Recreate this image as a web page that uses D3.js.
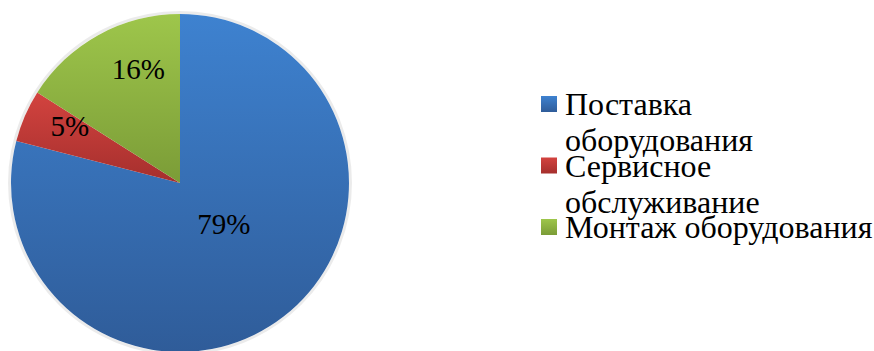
<!DOCTYPE html>
<html>
<head>
<meta charset="utf-8">
<script src="https://cdn.jsdelivr.net/npm/d3@7"></script>
<style>
  body { margin: 0; background: #fff; }
  svg text { font-family: "Liberation Serif", serif; fill: #000; }
</style>
</head>
<body>
<svg id="chart"></svg>
<script>
const width = 874;
const height = 351;

// chart data
const categories = ["Поставка оборудования", "Сервисное обслуживание", "Монтаж оборудования"];
const legendLines = [["Поставка", "оборудования"], ["Сервисное", "обслуживание"], ["Монтаж оборудования"]];
const values = [79, 5, 16];
const pctLabels = ["79%", "5%", "16%"];

// colours: top / bottom of each slice gradient
const colorTop = ["#3e82d0", "#d3433f", "#9ec64b"];
const colorBottom = ["#2f5c99", "#a52f2d", "#7b9c37"];

// label placement: angle shift (deg) from slice middle and radius
const labelShift = [-9, 4, 8.8];
const labelRadius = [60, 124, 122];

const cx = 180, cy = 183, radius = 169;

const svg = d3.select("#chart")
    .attr("width", width)
    .attr("height", height);

const defs = svg.append("defs");

categories.forEach((c, i) => {
    const g = defs.append("linearGradient")
        .attr("id", "grad" + i)
        .attr("x1", 0).attr("y1", 0)
        .attr("x2", 0).attr("y2", 1);
    g.append("stop").attr("offset", "0%").attr("stop-color", colorTop[i]);
    g.append("stop").attr("offset", "100%").attr("stop-color", colorBottom[i]);
});

const pie = d3.pie().sort(null).value(d => d);
const arc = d3.arc().innerRadius(0).outerRadius(radius);
const arcs = pie(values);

const pieG = svg.append("g")
    .attr("transform", "translate(" + cx + "," + cy + ")");

// soft edge shadow, like the office chart
pieG.append("circle")
    .attr("r", radius + 1.5)
    .attr("fill", "none")
    .attr("stroke", "#000")
    .attr("stroke-opacity", 0.08)
    .attr("stroke-width", 3);

pieG.append("g")
    .selectAll("path").data(arcs).enter()
    .append("path")
    .attr("d", arc)
    .attr("fill", (d, i) => "url(#grad" + i + ")");

pieG.selectAll("text.pct").data(arcs).enter()
    .append("text")
    .attr("class", "pct")
    .attr("text-anchor", "middle")
    .attr("dy", "0.35em")
    .attr("font-size", 29)
    .attr("transform", (d, i) => {
        const a = (d.startAngle + d.endAngle) / 2 + labelShift[i] * Math.PI / 180;
        const r = labelRadius[i];
        return "translate(" + (r * Math.sin(a)) + "," + (-r * Math.cos(a)) + ")";
    })
    .text((d, i) => pctLabels[i]);

// legend
const legendY = d3.scaleLinear().domain([0, 2]).range([115, 238]);

const legend = svg.append("g");

legend.selectAll("rect").data(categories).enter()
    .append("rect")
    .attr("x", 541)
    .attr("y", (d, i) => legendY(i) - 19)
    .attr("width", 16)
    .attr("height", 16)
    .attr("fill", (d, i) => "url(#grad" + i + ")");

legend.selectAll("text").data(legendLines).enter()
    .append("text")
    .attr("x", 565)
    .attr("y", (d, i) => legendY(i))
    .attr("font-size", 32)
    .each(function(lines) {
        const t = d3.select(this);
        lines.forEach((line, j) => {
            t.append("tspan")
                .attr("x", 565)
                .attr("dy", j === 0 ? 0 : 36)
                .text(line);
        });
    });
</script>
</body>
</html>
